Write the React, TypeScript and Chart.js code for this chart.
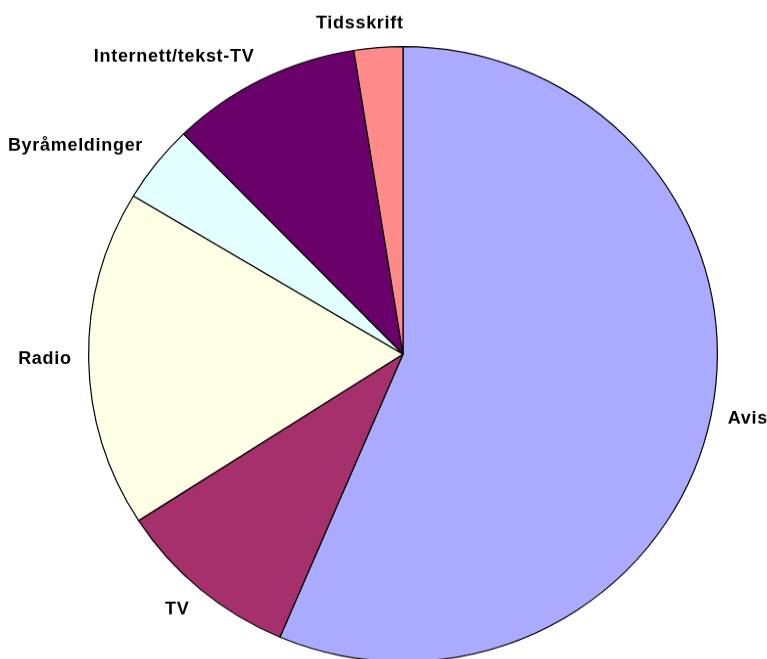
import React, { useEffect, useRef } from "react";
import { Chart, registerables } from "chart.js";

Chart.register(...registerables);

const categories = ["Avis", "TV", "Radio", "Byråmeldinger", "Internett/tekst-TV", "Tidsskrift"];
const values = [56.4, 9.5, 17.7, 4.1, 9.8, 2.5];
const colors = ["#AAAAFF", "#A5306B", "#FFFFE6", "#E3FFFF", "#6A006A", "#FF8A8A"];

const labelPlugin = {
  id: "outerLabels",
  afterDatasetsDraw(chart: any) {
    const ctx = chart.ctx;
    const meta = chart.getDatasetMeta(0);
    ctx.save();
    ctx.font = "bold 18px 'Liberation Sans', Arial, sans-serif";
    (ctx as any).letterSpacing = "0.7px";
    ctx.fillStyle = "#000";
    ctx.textAlign = "center";
    ctx.textBaseline = "middle";
    meta.data.forEach((arc: any, i: number) => {
      const p = arc.getProps(["x", "y", "startAngle", "endAngle", "outerRadius"], true);
      const mid = (p.startAngle + p.endAngle) / 2;
      const dx = Math.cos(mid);
      const dy = Math.sin(mid);
      const R = p.outerRadius + 17;
      const ax = p.x + dx * R;
      const ay = p.y + dy * R;
      const text = chart.data.labels[i];
      const w = ctx.measureText(text).width;
      const h = 15;
      const fx = Math.sign(dx) * Math.min(Math.abs(dx) / 0.2, 1);
      const fy = Math.sign(dy) * Math.max(0, Math.min((Math.abs(dy) - 0.3) / 0.3, 1));
      ctx.fillText(text, ax + (fx * w) / 2, ay + (fy * h) / 2);
    });
    ctx.restore();
  },
};

export default function App() {
  const ref = useRef<HTMLCanvasElement>(null);
  useEffect(() => {
    if (!ref.current) return;
    const chart = new Chart(ref.current, {
      type: "pie",
      data: {
        labels: categories,
        datasets: [
          {
            data: values,
            backgroundColor: colors,
            borderColor: "#000000",
            borderWidth: 1.2,
          },
        ],
      },
      options: {
        responsive: false,
        animation: false,
        devicePixelRatio: 1,
        layout: { padding: { left: 88, right: 49, top: 47, bottom: 13 } },
        plugins: {
          legend: { display: false },
          tooltip: { enabled: false },
        },
      },
      plugins: [labelPlugin],
    });
    return () => chart.destroy();
  }, []);
  return (
    <div
      style={{
        position: "absolute",
        left: 0,
        top: 0,
        width: 767,
        height: 659,
        overflow: "hidden",
        background: "#fff",
      }}
    >
      <canvas
        ref={ref}
        width={767}
        height={690}
        style={{ display: "block", width: "767px", height: "675px" }}
      />
    </div>
  );
}
